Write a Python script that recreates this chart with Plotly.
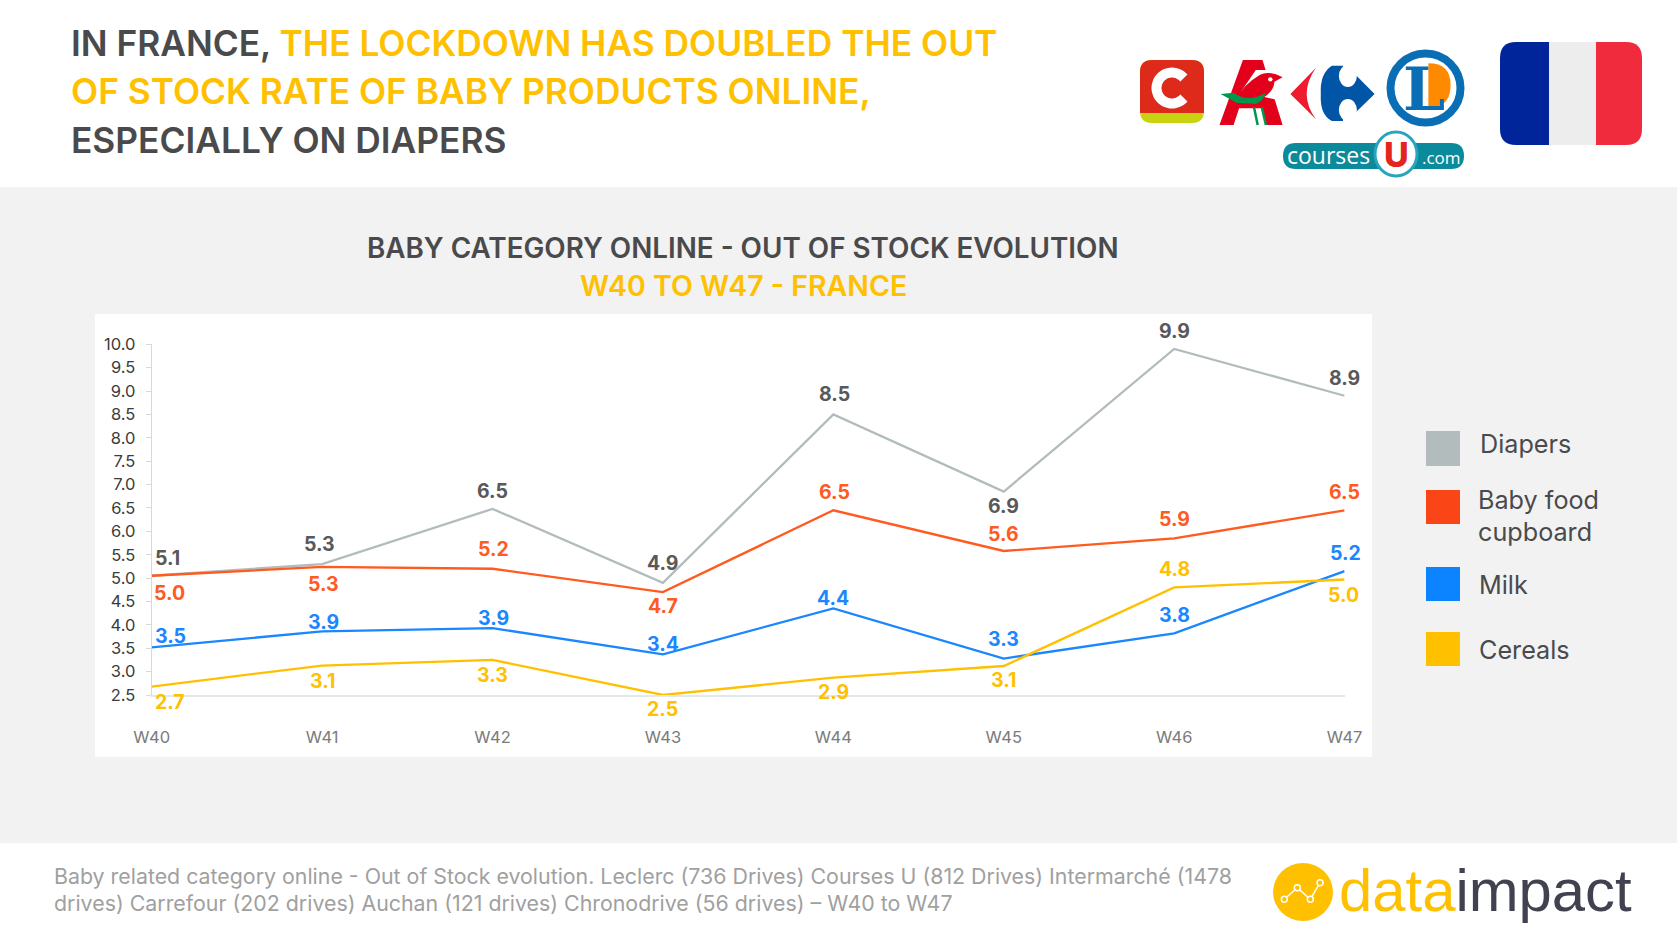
import re
import numpy as np
import plotly.graph_objects as go

W, H = 1680, 945
weeks = ["W40", "W41", "W42", "W43", "W44", "W45", "W46", "W47"]
diapers = [5.05, 5.3, 6.48, 4.9, 8.5, 6.85, 9.9, 8.9]
baby_food = [5.05, 5.24, 5.2, 4.7, 6.45, 5.58, 5.85, 6.45]
milk = [3.52, 3.86, 3.93, 3.37, 4.35, 3.28, 3.82, 5.15]
cereals = [2.68, 3.13, 3.25, 2.5, 2.87, 3.12, 4.8, 4.97]

diapers_lbl = ["5.1", "5.3", "6.5", "4.9", "8.5", "6.9", "9.9", "8.9"]
baby_food_lbl = ["5.0", "5.3", "5.2", "4.7", "6.5", "5.6", "5.9", "6.5"]
milk_lbl = ["3.5", "3.9", "3.9", "3.4", "4.4", "3.3", "3.8", "5.2"]
cereals_lbl = ["2.7", "3.1", "3.3", "2.5", "2.9", "3.1", "4.8", "5.0"]

diapers_off = [(15, 17), (-2, 19), (0, 17), (0, 18), (1, 19), (0, -13), (0, 17), (0, 17)]
baby_food_off = [(17, -16), (1, -16), (1, 18), (0, -13), (1, 17), (0, 16), (0, 18), (0, 17)]
milk_off = [(18, 11), (1, 9), (1, 9), (0, 10), (0, 10), (0, 18), (0, 17), (1, 17)]
cereals_off = [(17, -14), (0, -14), (0, -14), (0, -13), (0, -13), (0, -13), (0, 17), (-1, -14)]

GREY_L, ORANGE, BLUE, AMBER = "#B3BCBC", "#FF5A1F", "#1A86FF", "#FFC000"
GREY_T = "#59595B"
TXT = "#4A4A4C"
FONT = "Inter"


def px(x):
    return x / W


def py(y):
    return 1 - y / H


def pth(s):
    toks = re.findall(r"[A-Za-z]|-?[\d.]+", s)
    out, isx = [], True
    for t in toks:
        if t.isalpha():
            out.append(t)
            isx = True
        else:
            out.append(f"{px(float(t)):.5f}" if isx else f"{py(float(t)):.5f}")
            isx = not isx
    return " ".join(out)


def zp(s):
    """path given in crop-of-logo coordinates"""
    toks = re.findall(r"[A-Za-z]|-?[\d.]+", s)
    out, isx = [], True
    for t in toks:
        if t.isalpha():
            out.append(t)
            isx = True
        else:
            out.append(f"{1100 + float(t) / 2.695:.1f}" if isx else f"{20 + float(t) / 3:.1f}")
            isx = not isx
    return pth(" ".join(out))


shapes, ann = [], []


def rect(x0, y0, x1, y1, c, layer="below"):
    shapes.append(dict(type="rect", xref="paper", yref="paper", x0=px(x0), x1=px(x1), y0=py(y0), y1=py(y1),
                       fillcolor=c, line=dict(width=0), layer=layer))


def poly(path, c, layer="above"):
    shapes.append(dict(type="path", xref="paper", yref="paper", path=path, fillcolor=c, line=dict(width=0), layer=layer))


def stroke(path, c, w):
    shapes.append(dict(type="path", xref="paper", yref="paper", path=path, line=dict(width=w, color=c), layer="above"))


def ell(cx, cy, rx, ry, fill, line=None, lw=0):
    shapes.append(dict(type="circle", xref="paper", yref="paper", x0=px(cx - rx), x1=px(cx + rx), y0=py(cy + ry),
                       y1=py(cy - ry), fillcolor=fill, line=dict(width=lw, color=line or fill), layer="above"))


def rr(x0, y0, x1, y1, r, tl=True, tr=True, br=True, bl=True):
    s = f"M {x0 + (r if tl else 0)} {y0} L {x1 - (r if tr else 0)} {y0} "
    if tr:
        s += f"Q {x1} {y0} {x1} {y0 + r} "
    s += f"L {x1} {y1 - (r if br else 0)} "
    if br:
        s += f"Q {x1} {y1} {x1 - r} {y1} "
    s += f"L {x0 + (r if bl else 0)} {y1} "
    if bl:
        s += f"Q {x0} {y1} {x0} {y1 - r} "
    s += f"L {x0} {y0 + (r if tl else 0)} "
    if tl:
        s += f"Q {x0} {y0} {x0 + r} {y0} "
    return pth(s + "Z")


def text(x, y, t, size, color=TXT, anchor="left", weight=400, family=FONT, valign="middle"):
    ann.append(dict(xref="paper", yref="paper", x=px(x), y=py(y), text=t, showarrow=False, xanchor=anchor,
                    yanchor=valign, font=dict(size=size, color=color, family=family, weight=weight),
                    borderpad=0, borderwidth=0))


# background bands
rect(0, 187, 1677, 843, "#F2F2F2")
rect(95, 314, 1372, 757, "#FFFFFF")

# headline
am = f'<span style="color:{AMBER}">%s</span>'
text(70.5, 43.5, "IN FRANCE, " + am % "THE LOCKDOWN HAS DOUBLED THE OUT", 35.3, weight=600)
text(70.5, 91.5, am % "OF STOCK RATE OF BABY PRODUCTS ONLINE,", 35.3, weight=600)
text(70.5, 140, "ESPECIALLY ON DIAPERS", 35.3, weight=600)
text(743, 248, "BABY CATEGORY ONLINE - OUT OF STOCK EVOLUTION", 27.8, anchor="center", weight=600)
text(743, 286, "W40 TO W47 - FRANCE", 28.5, color=AMBER, anchor="center", weight=600)

# flag
rect(1549, 42, 1597, 145, "#EDEDED", layer="above")
poly(rr(1500, 42, 1549, 145, 16, tr=False, br=False), "#00249A")
poly(rr(1596, 42, 1642, 145, 16, tl=False, bl=False), "#EF2B3D")

# Chronodrive
poly(rr(1140, 60, 1204, 123, 12), "#C6D30E")
poly(rr(1140, 60, 1204, 113, 12, br=False, bl=False), "#DE2A1B")
ang = np.radians(np.linspace(40, 320, 40))
cpts = [(1172 + 15.5 * np.cos(a), 88 - 15.5 * np.sin(a)) for a in ang]
stroke(pth("M " + " L ".join(f"{a:.1f} {b:.1f}" for a, b in cpts)), "#FFFFFF", 10)

# Auchan
poly(zp("M 322 315 L 385 120 L 438 120 L 492 315 L 448 315 L 435 265 L 375 265 L 360 315 Z"), "#E2001A")
poly(zp("M 380 215 L 420 150 L 470 150 L 480 240 Z"), "#FFFFFF")
poly(zp("M 492 172 Q 455 150 430 165 Q 385 195 365 240 L 430 240 Q 470 215 470 185 Z"), "#E2001A")
poly(zp("M 325 222 L 368 248 L 420 252 Q 442 242 446 218 Q 400 250 360 218 Z"), "#00964B")
stroke(zp("M 415 262 L 425 315"), "#00964B", 2.5)
stroke(zp("M 436 262 L 447 315"), "#00964B", 2.5)
ell(1100 + 459 / 2.695, 20 + 178 / 3, 2.2, 2.2, "#FFFFFF")

# Carrefour
poly(zp("M 582 143 L 513 222 L 582 298 Q 532 222 582 143 Z"), "#EE1C2E")
poly(zp("M 625 137 Q 592 160 595 222 Q 592 285 625 303 L 655 303 L 670 298 L 740 222 L 670 143 L 655 137 Z"), "#0055A6")
ell(1100 + 668 / 2.695, 20 + 168 / 3, 9, 11, "#FFFFFF")
ell(1100 + 668 / 2.695, 20 + 270 / 3, 9, 11, "#FFFFFF")
poly(zp("M 655 125 L 672 125 L 672 150 L 655 150 Z"), "#FFFFFF")
poly(zp("M 655 290 L 672 290 L 672 312 L 655 312 Z"), "#FFFFFF")

# Leclerc
ell(1425.5, 88, 35, 34.5, "#FFFFFF", "#0A6EB4", 8)
poly(zp("M 885 130 Q 945 130 945 195 Q 945 250 905 262 L 885 262 Z"), "#FF8A00")
text(1424, 89, "L", 60, color="#0A6EB4", anchor="center", weight=700, family="DejaVu Serif")

# Courses U
poly(rr(1283, 143, 1464, 169, 13), "#0B8A9B")
text(1287, 155, "courses", 23, color="#FFFFFF", family="Open Sans")
text(1422, 157, ".com", 17, color="#FFFFFF", family="Open Sans")
ell(1396, 154, 21, 22, "#FFFFFF", "#27A5C0", 3)
text(1396, 155, "U", 34, color="#E3251B", anchor="center", weight=800)

# data impact logo
ell(1303, 892, 30, 29, AMBER)
nodes = [(133, 178), (172, 143), (211, 178), (240, 128)]
real = [(1240 + a / 3, 840 + b / 3) for a, b in nodes]
stroke(pth("M " + " L ".join(f"{a:.1f} {b:.1f}" for a, b in real)), "#FFFFFF", 1.5)
for a, b in real:
    ell(a, b, 3, 3, AMBER, "#FFFFFF", 1.5)
text(1339, 890, am % "data" + '<span style="color:#41424F">impact</span>', 59.8, family="Liberation Sans")

# footer
text(54, 876, "Baby related category online - Out of Stock evolution. Leclerc (736 Drives) Courses U (812 Drives) Intermarché (1478", 21.35, color="#A0A0A0")
text(54, 903, "drives) Carrefour (202 drives) Auchan (121 drives) Chronodrive (56 drives) – W40 to W47", 21.35, color="#A0A0A0")

# legend
rect(1426, 431, 1460, 466, "#B3BCBC", "above")
rect(1426, 490, 1460, 524, "#FA4616", "above")
rect(1426, 567, 1460, 601, "#0D84FF", "above")
rect(1426, 632, 1460, 666, "#FFC000", "above")
text(1480, 443.5, "Diapers", 25.2)
text(1477.5, 499.5, "Baby food", 25.2)
text(1477.5, 531.5, "cupboard", 25.2)
text(1479, 584.5, "Milk", 25.2)
text(1479, 649.5, "Cereals", 25.2)

fig = go.Figure()
S = 1680 / 1568
series = [("Diapers", diapers, diapers_lbl, diapers_off, GREY_L, GREY_T),
          ("Baby food cupboard", baby_food, baby_food_lbl, baby_food_off, ORANGE, ORANGE),
          ("Milk", milk, milk_lbl, milk_off, BLUE, BLUE),
          ("Cereals", cereals, cereals_lbl, cereals_off, AMBER, AMBER)]
for name, vals, lbls, offs, lc, tc in series:
    fig.add_trace(go.Scatter(x=weeks, y=vals, mode="lines", name=name, line=dict(color=lc, width=2.3), cliponaxis=False))
    for wk, v, l, (dx, dy) in zip(weeks, vals, lbls, offs):
        ann.append(dict(x=wk, y=v, xref="x", yref="y", text=l, showarrow=False, xshift=dx * S, yshift=dy * S,
                        font=dict(size=19.5, color=tc, family=FONT, weight=700)))

fig.update_layout(
    width=W, height=H, autosize=False, margin=dict(l=0, r=0, t=0, b=0, pad=0, autoexpand=False),
    paper_bgcolor="#FFFFFF", plot_bgcolor="rgba(0,0,0,0)", showlegend=False,
    shapes=shapes, annotations=ann, font=dict(family=FONT),
    xaxis=dict(domain=[151.7 / W, 1344.6 / W], type="category", categoryorder="array", categoryarray=weeks,
               range=[0, 7], showgrid=False, zeroline=False, showline=True, linecolor="#E3E8E8", linewidth=1.5,
               ticks="", ticklabelstandoff=26, tickfont=dict(size=16.5, color="#7B7B7B", family=FONT)),
    yaxis=dict(domain=[1 - 695 / H, 1 - 344.3 / H], range=[2.5, 10], dtick=0.5, tick0=2.5, tickformat=".1f",
               showgrid=False, zeroline=False, showline=True, linecolor="#D9D9D9", linewidth=1,
               ticks="outside", ticklen=5, tickcolor="#D9D9D9", ticklabelstandoff=7,
               tickfont=dict(size=16.5, color="#3C3C3C", family=FONT)),
)
fig.write_html("out.html", config=dict(displayModeBar=False), post_script="document.body.style.margin='0';")
